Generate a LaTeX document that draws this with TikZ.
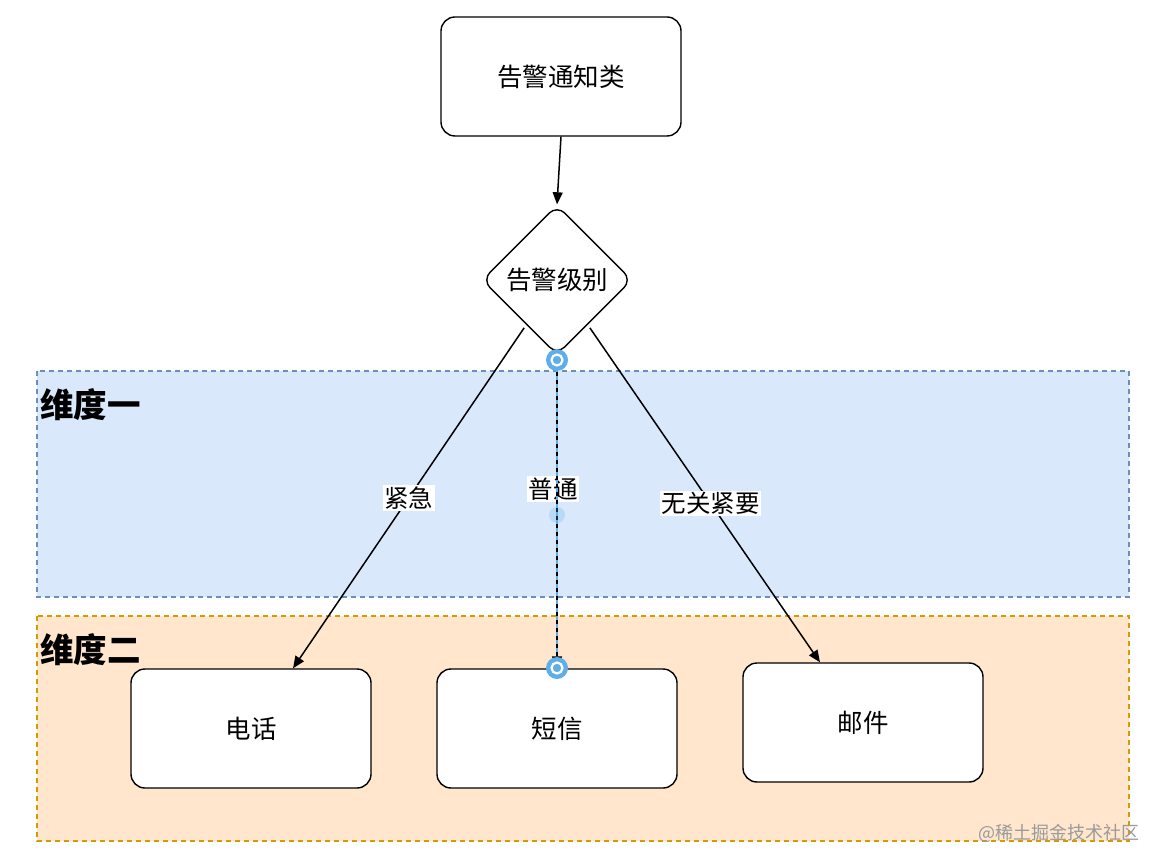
\documentclass[tikz,border=0pt]{standalone}
\usepackage{fontspec}
\setmainfont{Noto Sans CJK SC}
\newfontfamily\cjk{Noto Sans CJK SC}
\usetikzlibrary{shapes.geometric,arrows.meta}
\definecolor{bluefill}{HTML}{DAE8FC}
\definecolor{bluedraw}{HTML}{6C8EBF}
\definecolor{orfill}{HTML}{FFE6CC}
\definecolor{ordraw}{HTML}{D79B00}
\definecolor{handle}{HTML}{5DAEEA}
\definecolor{wm}{HTML}{9A9A9A}
\tikzset{
  box/.style={draw=black, line width=1.4pt, rounded corners=14pt, fill=white,
    minimum width=240pt, minimum height=119pt, inner sep=0pt,
    font=\cjk\fontsize{25.5}{28}\selectfont},
  dec/.style={draw=black, line width=1.4pt, rounded corners=11pt, fill=white,
    diamond, aspect=1, minimum size=150pt, inner sep=0pt,
    font=\cjk\fontsize{25.5}{28}\selectfont},
  lane/.style={line width=1.1pt, dash pattern=on 5pt off 4pt},
  lanelabel/.style={anchor=west, inner sep=0pt, font=\cjk\bfseries\fontsize{33.5}{36}\selectfont},
  conn/.style={line width=1.5pt, -{Triangle[length=12pt,width=10pt]}},
  elabel/.style={fill=white, inner sep=1.5pt, font=\cjk\fontsize{24.5}{27}\selectfont},
  hdl/.style={fill=handle, draw=none, circle, minimum size=22pt, inner sep=0pt},
}
\begin{document}
\begin{tikzpicture}[x=1pt,y=-1pt]
\useasboundingbox (0,0) rectangle (1162,866);
% lanes
\draw[lane, fill=bluefill, draw=bluedraw] (37,371) rectangle (1129,597);
\draw[lane, fill=orfill, draw=ordraw] (37,616) rectangle (1129,841);
\node[lanelabel] (l1) at (40,405) {维度一};
\node[lanelabel] (l2) at (40,650) {维度二};
% nodes
\node[box] (top) at (561,76.5) {告警通知类};
\node[dec] (lvl) at (557,280) {告警级别};
\node[box] (tel) at (251,728.5) {电话};
\node[box] (sms) at (557,728.5) {短信};
\node[box] (mail) at (863,722.5) {邮件};
% connectors
\draw[conn] (top.south) -- (lvl.north);
\draw[conn] ([shift={(5,10)}]lvl.south west) -- ([xshift=42pt]tel.north)
  node[elabel, pos=0.5] (e1) {紧急};
\draw[conn] ([shift={(-5,10)}]lvl.south east) -- ([xshift=-43pt]mail.north)
  node[elabel, pos=0.525] (e3) {无关紧要};
\node[elabel] (e2) at (553,489) {普通};
\draw[line width=1.2pt, handle] (lvl.south) -- (sms.north);
\draw[conn, dash pattern=on 4pt off 4pt] (lvl.south) -- (sms.north);
% selection handles
\node[hdl] (h1) at (557,360) {};
\draw[white, line width=2.2pt] (h1.center) circle (5.5pt);
\node[hdl] (h2) at (557,668) {};
\draw[white, line width=2.2pt] (h2.center) circle (5.5pt);
\node[hdl, fill opacity=0.25, minimum size=16pt] (h3) at (557,515) {};
% watermark
\node[anchor=east, inner sep=0pt, text=wm, font=\cjk\fontsize{18}{20}\selectfont] (wm) at (1140,833) {@稀土掘金技术社区};
\end{tikzpicture}
\end{document}
